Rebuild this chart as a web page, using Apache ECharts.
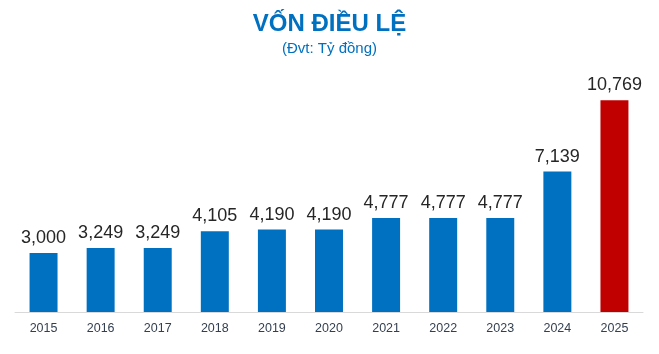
<!DOCTYPE html>
<html>
<head>
<meta charset="utf-8">
<script src="https://cdn.jsdelivr.net/npm/echarts@6/dist/echarts.min.js"></script>
<style>
  html, body { margin: 0; padding: 0; background: #fff; }
  #chart { width: 659px; height: 354px; }
</style>
</head>
<body>
<div id="chart"></div>
<script>
const years = ['2015', '2016', '2017', '2018', '2019', '2020', '2021', '2022', '2023', '2024', '2025'];
const capital = [3000, 3249, 3249, 4105, 4190, 4190, 4777, 4777, 4777, 7139, 10769];
const barColors = ['#0070C0', '#0070C0', '#0070C0', '#0070C0', '#0070C0', '#0070C0', '#0070C0', '#0070C0', '#0070C0', '#0070C0', '#C00000'];

const chart = echarts.init(document.getElementById('chart'));

chart.setOption({
  backgroundColor: '#fff',
  animation: false,
  title: {
    text: 'VỐN ĐIỀU LỆ',
    subtext: '(Đvt: Tỷ đồng)',
    left: 'center',
    top: 7,
    itemGap: 5,
    textStyle: { color: '#0070C0', fontSize: 24, fontWeight: 'bold', fontFamily: 'Liberation Sans, Arial, sans-serif' },
    subtextStyle: { color: '#0070C0', fontSize: 15, fontFamily: 'Liberation Sans, Arial, sans-serif' },
  },
  grid: { left: 15, right: 16, top: 76, bottom: 42 },
  xAxis: {
    type: 'category',
    data: years,
    axisLine: { lineStyle: { color: '#D9D9D9', width: 1 } },
    axisTick: { show: false },
    axisLabel: { color: '#333F50', fontSize: 12.5, margin: 10, fontFamily: 'Liberation Sans, Arial, sans-serif' },
  },
  yAxis: {
    type: 'value',
    min: 0,
    max: 12000,
    show: false,
    splitLine: { show: false },
  },
  series: [
    {
      type: 'bar',
      barWidth: '49%',
      data: capital.map((v, i) => ({ value: v, itemStyle: { color: barColors[i] } })),
      label: {
        show: true,
        position: 'top',
        distance: 6,
        color: '#262626',
        fontSize: 18,
        fontFamily: 'Liberation Sans, Arial, sans-serif',
        formatter: (p) => p.value.toLocaleString('en-US'),
      },
    },
  ],
});
</script>
</body>
</html>
